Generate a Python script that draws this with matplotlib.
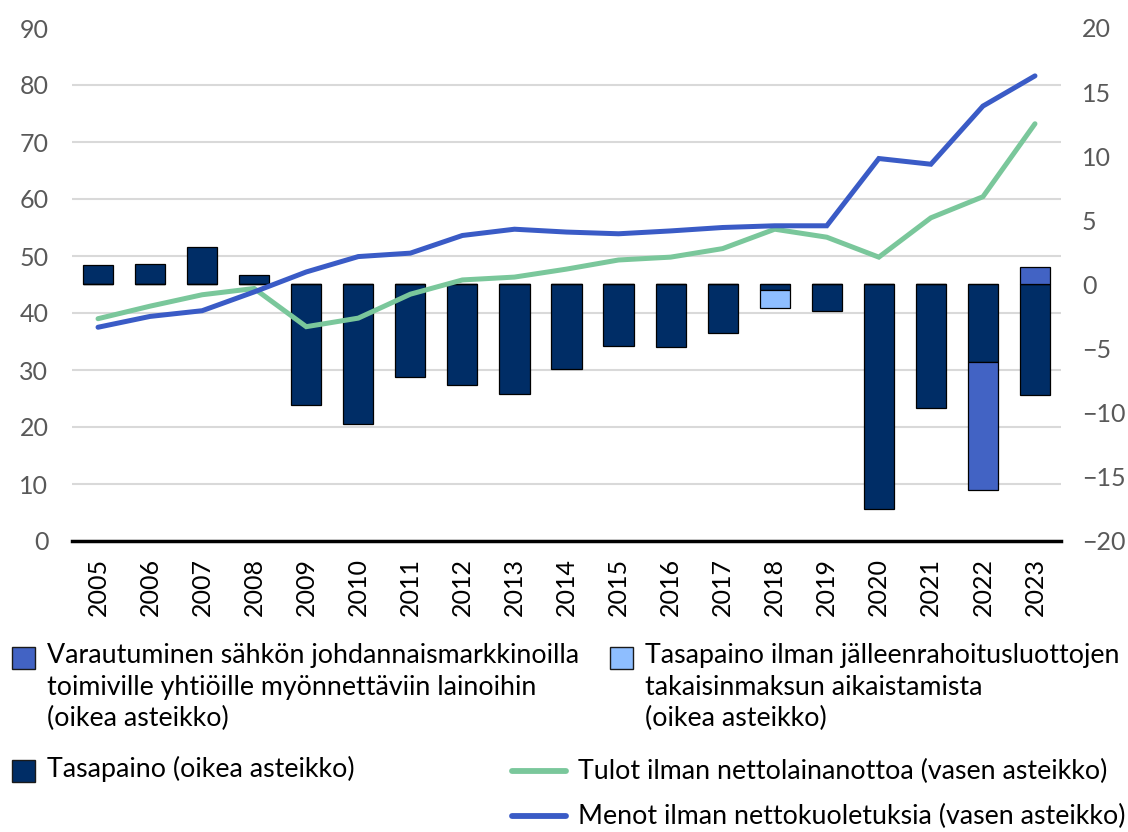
import numpy as np
import matplotlib
matplotlib.use("Agg")
import matplotlib.pyplot as plt
from matplotlib.patches import Rectangle
from matplotlib.lines import Line2D

plt.rcParams['font.family'] = ['Lato', 'DejaVu Sans']

years = [str(y) for y in range(2005, 2024)]

# bars, right axis (mrd. e)
tasapaino = [1.5, 1.6, 2.9, 0.75, -9.4, -10.9, -7.2, -7.8, -8.5, -6.6,
             -4.8, -4.9, -3.8, -0.4, -2.1, -17.5, -9.6, -6.05, -8.65]
ilman_jalleen = [0, 0, 0, 0, 0, 0, 0, 0, 0, 0,
                 0, 0, 0, -1.4, 0, 0, 0, 0, 0]
varautuminen = [0, 0, 0, 0, 0, 0, 0, 0, 0, 0,
                0, 0, 0, 0, 0, 0, 0, -9.95, 1.35]

# lines, left axis
tulot = [39.0, 41.2, 43.2, 44.3, 37.6, 39.1, 43.3, 45.8, 46.3, 47.7,
         49.3, 49.8, 51.3, 54.7, 53.3, 49.8, 56.7, 60.4, 73.2]
menot = [37.5, 39.4, 40.4, 43.7, 47.2, 49.9, 50.5, 53.6, 54.7, 54.2,
         53.9, 54.4, 55.0, 55.3, 55.3, 67.1, 66.1, 76.3, 81.6]

labels = ["Varautuminen sähkön johdannaismarkkinoilla\ntoimiville yhtiöille myönnettäviin lainoihin\n(oikea asteikko)",
          "Tasapaino ilman jälleenrahoitusluottojen\ntakaisinmaksun aikaistamista\n(oikea asteikko)",
          "Tasapaino (oikea asteikko)",
          "Tulot ilman nettolainanottoa (vasen asteikko)",
          "Menot ilman nettokuoletuksia (vasen asteikko)"]

c_navy = '#002D66'
c_mid = '#4263C4'
c_light = '#8EBEFF'
c_green = '#7AC79B'
c_blue = '#3A5BC6'
c_tick = '#595959'

W, H = 1128, 832
fig = plt.figure(figsize=(W / 100, H / 100), dpi=100)
ax = fig.add_axes([72 / W, 1 - 541 / H, (1061 - 72) / W, (541 - 28) / H])
ax2 = ax.twinx()

x = np.arange(len(years))
bw = 0.58
tas = np.array(tasapaino)
ilm = np.array(ilman_jalleen)
var = np.array(varautuminen)

left_lim = (0, 90)
right_lim = (-20, 20)

# gridlines follow the left scale but sit behind the bars
left_ticks = np.arange(0, 91, 10)
grid_pos = right_lim[0] + (left_ticks - left_lim[0]) * (right_lim[1] - right_lim[0]) / (left_lim[1] - left_lim[0])
ax2.set_yticks(grid_pos, minor=True)
ax2.grid(axis='y', which='minor', color='#D9D9D9', lw=1.5, zorder=0)
ax2.grid(axis='y', which='major', visible=False)
ax2.set_axisbelow(True)

# right axis bars
ax2.bar(x, tas, bw, color=c_navy, edgecolor='black', linewidth=0.9, zorder=2)
ax2.bar(x, ilm, bw, bottom=np.where(ilm != 0, tas, 0), color=c_light,
        edgecolor='black', linewidth=0.9, zorder=2)
var_bottom = np.where(var < 0, np.minimum(tas, 0), np.maximum(tas, 0))
ax2.bar(x, var, bw, bottom=np.where(var != 0, var_bottom, 0), color=c_mid,
        edgecolor='black', linewidth=0.9, zorder=2)

# left axis lines, drawn on top of bars
ax2.set_zorder(1)
ax.set_zorder(2)
ax.patch.set_visible(False)
ax.plot(x, tulot, color=c_green, lw=3.6, solid_capstyle='round', solid_joinstyle='miter')
ax.plot(x, menot, color=c_blue, lw=3.6, solid_capstyle='round', solid_joinstyle='miter')

ax.set_ylim(*left_lim)
ax2.set_ylim(*right_lim)
ax.set_xlim(-0.5, len(years) - 0.5)
ax.set_yticks(left_ticks)
ax2.set_yticks(range(-20, 21, 5))

ax.set_xticks(x)
ax.set_xticklabels(years, rotation=90, fontsize=18, color='black')
ax.tick_params(axis='x', length=0, pad=12)
ax.tick_params(axis='y', length=0, pad=17, labelsize=18, labelcolor=c_tick)
ax2.tick_params(axis='y', which='both', length=0, pad=15, labelsize=18, labelcolor=c_tick)

for a in (ax, ax2):
    for s in ('top', 'left', 'right'):
        a.spines[s].set_visible(False)
ax2.spines['bottom'].set_visible(False)
ax.spines['bottom'].set_color('black')
ax.spines['bottom'].set_linewidth(2.5)

leg_fs = 19.3


def fx(px):
    return px / W


def fy(py):
    return 1 - py / H


def box_entry(px, py, color, text):
    fig.add_artist(Rectangle((fx(px), fy(py + 11)), 23 / W, 22 / H,
                             transform=fig.transFigure, facecolor=color,
                             edgecolor='#1a1a1a', linewidth=1))
    fig.text(fx(px + 35), fy(py - 15), text, fontsize=leg_fs, va='top', ha='left',
             linespacing=1.33, color='black')


def line_entry(px, py, color, text):
    fig.add_artist(Line2D([fx(px), fx(px + 54)], [fy(py), fy(py)],
                          transform=fig.transFigure, color=color, lw=4.2,
                          solid_capstyle='round'))
    fig.text(fx(px + 66), fy(py), text, fontsize=leg_fs, va='center', ha='left', color='black')


box_entry(12, 658, c_mid, labels[0])
box_entry(610, 658, c_light, labels[1])
box_entry(12, 771, c_navy, labels[2])
line_entry(512, 771, c_green, labels[3])
line_entry(512, 816, c_blue, labels[4])

fig.savefig('out.png', dpi=100)
